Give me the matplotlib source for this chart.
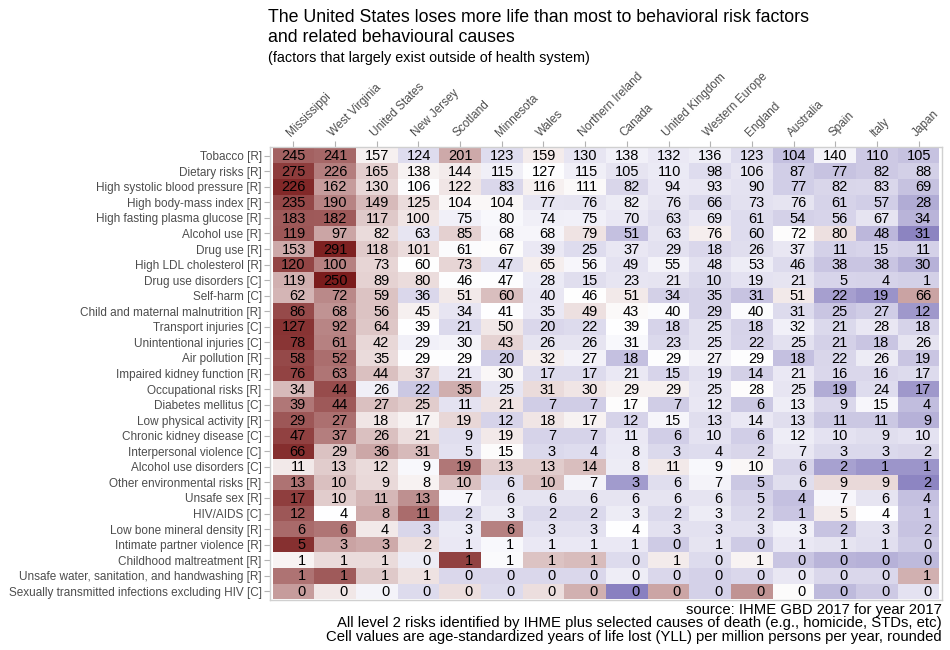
import numpy as np
import matplotlib
matplotlib.use('Agg')
import matplotlib.pyplot as plt
from matplotlib.colors import LinearSegmentedColormap, Normalize

plt.rcParams['font.family'] = ['Liberation Sans', 'DejaVu Sans']

# ==================== data ====================
places = ['Mississippi', 'West Virginia', 'United States', 'New Jersey', 'Scotland',
          'Minnesota', 'Wales', 'Northern Ireland', 'Canada', 'United Kingdom',
          'Western Europe', 'England', 'Australia', 'Spain', 'Italy', 'Japan']

causes = ['Tobacco [R]', 'Dietary risks [R]', 'High systolic blood pressure [R]',
          'High body-mass index [R]', 'High fasting plasma glucose [R]', 'Alcohol use [R]',
          'Drug use [R]', 'High LDL cholesterol [R]', 'Drug use disorders [C]', 'Self-harm [C]',
          'Child and maternal malnutrition [R]', 'Transport injuries [C]',
          'Unintentional injuries [C]', 'Air pollution [R]', 'Impaired kidney function [R]',
          'Occupational risks [R]', 'Diabetes mellitus [C]', 'Low physical activity [R]',
          'Chronic kidney disease [C]', 'Interpersonal violence [C]', 'Alcohol use disorders [C]',
          'Other environmental risks [R]', 'Unsafe sex [R]', 'HIV/AIDS [C]',
          'Low bone mineral density [R]', 'Intimate partner violence [R]',
          'Childhood maltreatment [R]', 'Unsafe water, sanitation, and handwashing [R]',
          'Sexually transmitted infections excluding HIV [C]']

# YLL per million (small rows carry estimated decimals, labels are rounded)
yll = [
    [245, 241, 157, 124, 201, 123, 159, 130, 138, 132, 136, 123, 104, 140, 110, 105],
    [275, 226, 165, 138, 144, 115, 127, 115, 105, 110, 98, 106, 87, 77, 82, 88],
    [226, 162, 130, 106, 122, 83, 116, 111, 82, 94, 93, 90, 77, 82, 83, 69],
    [235, 190, 149, 125, 104, 104, 77, 76, 82, 76, 66, 73, 76, 61, 57, 28],
    [183, 182, 117, 100, 75, 80, 74, 75, 70, 63, 69, 61, 54, 56, 67, 34],
    [119, 97, 82, 63, 85, 68, 68, 79, 51, 63, 76, 60, 72, 80, 48, 31],
    [153, 291, 118, 101, 61, 67, 39, 25, 37, 29, 18, 26, 37, 11, 15, 11],
    [120, 100, 73, 60, 73, 47, 65, 56, 49, 55, 48, 53, 46, 38, 38, 30],
    [119, 250, 89, 80, 46, 47, 28, 15, 23, 21, 10, 19, 21, 5, 4, 1],
    [62, 72, 59, 36, 51, 60, 40, 46, 51, 34, 35, 31, 51, 22, 19, 66],
    [86, 68, 56, 45, 34, 41, 35, 49, 43, 40, 29, 40, 31, 25, 27, 12],
    [127, 92, 64, 39, 21, 50, 20, 22, 39, 18, 25, 18, 32, 21, 28, 18],
    [78, 61, 42, 29, 30, 43, 26, 26, 31, 23, 25, 22, 25, 21, 18, 26],
    [58, 52, 35, 29, 29, 20, 32, 27, 18, 29, 27, 29, 18, 22, 26, 19],
    [76, 63, 44, 37, 21, 30, 17, 17, 21, 15, 19, 14, 21, 16, 16, 17],
    [34, 44, 26, 22, 35, 25, 31, 30, 29, 29, 25, 28, 25, 19, 24, 17],
    [39, 44, 27, 25, 11, 21, 7, 7, 17, 7, 12, 6, 13, 9, 15, 4],
    [29, 27, 18, 17, 19, 12, 18, 17, 12, 15, 13, 14, 13, 11, 11, 9],
    [47, 37, 26, 21, 9, 19, 7, 7, 11, 6, 10, 6, 12, 10, 9, 10],
    [66, 29, 36, 31, 5, 15, 3, 4, 8, 3, 4, 2, 7, 3, 3, 2],
    [11, 13, 12, 9, 19, 13, 13, 14, 8, 11, 9, 10, 6, 2, 1, 1],
    [13, 10, 9, 8, 10, 6, 10, 7, 3, 6, 7, 5, 6, 9, 9, 2],
    [17, 10, 11, 13, 7, 6, 6, 6, 6, 6, 6, 5, 4, 7, 6, 4],
    [12, 4, 8, 11, 2, 3, 2, 2, 3, 2, 3, 2, 1, 5, 4, 1],
    [6.2, 6.0, 4.0, 2.8, 3.2, 5.8, 3.0, 3.0, 3.6, 3.0, 3.0, 3.0, 3.3, 2.4, 3.0, 2.4],
    [5.0, 3.0, 2.9, 2.0, 1.0, 1.3, 1.0, 1.0, 1.0, 0.4, 0.9, 0.4, 1.0, 0.9, 0.8, 0.4],
    [0.62, 0.72, 0.72, 0.48, 1.35, 0.55, 0.82, 0.85, 0.40, 0.66, 0.40, 0.62, 0.30, 0.22, 0.20, 0.25],
    [1.10, 1.20, 0.75, 0.65, 0.35, 0.35, 0.35, 0.35, 0.45, 0.35, 0.32, 0.35, 0.42, 0.35, 0.35, 0.85],
    [0.35, 0.27, 0.23, 0.20, 0.28, 0.20, 0.28, 0.33, 0.09, 0.34, 0.19, 0.36, 0.25, 0.16, 0.18, 0.21],
]

title = ('The United States loses more life than most to behavioral risk factors\n'
         'and related behavioural causes')
subtitle = '(factors that largely exist outside of health system)'
caption = ['source: IHME GBD 2017 for year 2017',
           'All level 2 risks identified by IHME plus selected causes of death (e.g., homicide, STDs, etc)',
           'Cell values are age-standardized years of life lost (YLL) per million persons per year, rounded']

# ==================== row scaling ====================
vals = np.array(yll, dtype=float)
z = (vals - vals.mean(axis=1, keepdims=True)) / vals.std(axis=1, ddof=1, keepdims=True)
lim = np.abs(z).max()

cmap = LinearSegmentedColormap.from_list('pur_red', ['#46399c', '#ffffff', '#7b1c1c'])

# ==================== plot ====================
W, H = 950, 650
fig = plt.figure(figsize=(W / 100, H / 100), dpi=100)
ax = fig.add_axes([270 / W, 1 - 600 / H, (942 - 270) / W, (600 - 147) / H])

nrow, ncol = vals.shape
ax.pcolormesh(np.arange(ncol + 1) - 0.5, np.arange(nrow + 1) - 0.5, z,
              cmap=cmap, norm=Normalize(-lim, lim), shading='flat')
ax.set_xlim(-0.56, ncol - 0.44)
ax.set_ylim(nrow - 0.44, -0.56)

for i in range(nrow):
    for j in range(ncol):
        ax.text(j + 0.30, i + 0.04, f'{int(round(vals[i, j]))}', ha='right', va='center',
                fontsize=10.5, color='black')

ax.xaxis.tick_top()
ax.set_xticks(np.arange(ncol))
ax.set_xticklabels(places, rotation=45, ha='left', va='bottom', rotation_mode='anchor',
                   fontsize=8.5, color='#4d4d4d')
ax.set_yticks(np.arange(nrow))
ax.set_yticklabels(causes, fontsize=8.5, color='#4d4d4d')
ax.tick_params(axis='both', length=4, color='#b3b3b3', width=0.8, pad=2)
for s in ax.spines.values():
    s.set_color('#d0d0d0')
    s.set_linewidth(1.0)

fig.text(268 / W, 1 - 9 / H, title, ha='left', va='top', fontsize=12.8, color='black',
         linespacing=1.2)
fig.text(268 / W, 1 - 58 / H, subtitle, ha='left', va='center', fontsize=10.4, color='black')
for k, line in enumerate(caption):
    fig.text(942 / W, 1 - (610 + 13.5 * k) / H, line, ha='right', va='center',
             fontsize=10.7, color='black')

fig.savefig('out.png', dpi=100)
